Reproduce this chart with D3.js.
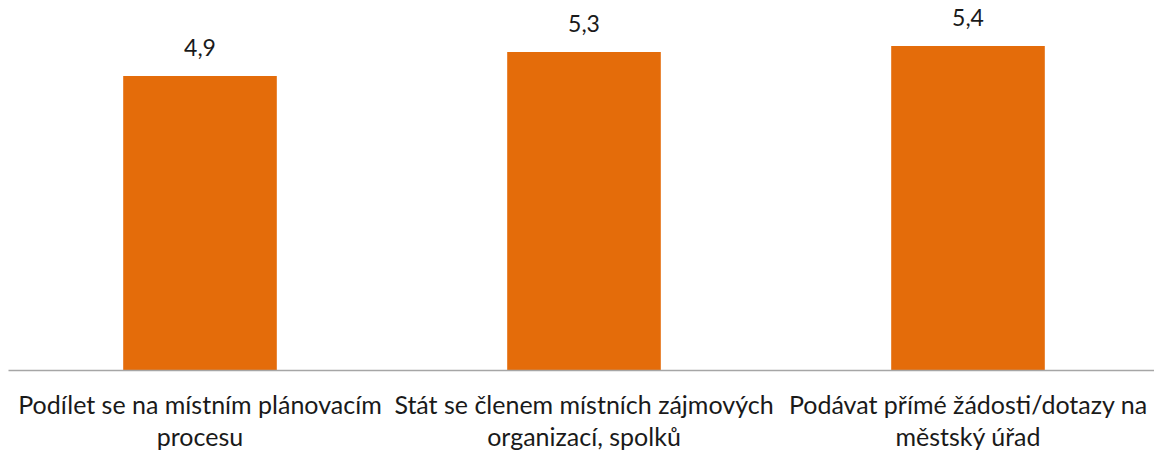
<!DOCTYPE html>
<html>
<head>
<meta charset="utf-8">
<script src="https://cdn.jsdelivr.net/npm/d3@7"></script>
<style>
  body { margin: 0; background: #fff; }
  svg { display: block; font-family: Lato, "Open Sans", sans-serif; }
</style>
</head>
<body>
<div id="chart"></div>
<script>
var categories = [
  ["Podílet se na místním plánovacím", "procesu"],
  ["Stát se členem místních zájmových", "organizací, spolků"],
  ["Podávat přímé žádosti/dotazy na", "městský úřad"]
];
var values = [4.9, 5.3, 5.4];
var valueLabels = ["4,9", "5,3", "5,4"];

var width = 1154,
    height = 455,
    axisLeft = 8,
    baseline = 370,
    plotTop = 10;

var svg = d3.select("#chart").append("svg")
    .attr("width", width)
    .attr("height", height);

// band scale runs slightly past the right edge, like the original
var xScale = d3.scaleBand()
    .domain(d3.range(values.length))
    .range([axisLeft, axisLeft + 384 * values.length])
    .paddingInner(0.6)
    .paddingOuter(0.3);

var yScale = d3.scaleLinear()
    .domain([0, 6])
    .range([baseline, plotTop]);

// bars
svg.selectAll(".bar")
  .data(values)
  .enter().append("rect")
    .attr("class", "bar")
    .attr("x", function(d, i) { return xScale(i); })
    .attr("y", function(d) { return yScale(d); })
    .attr("width", xScale.bandwidth())
    .attr("height", function(d) { return baseline - yScale(d); })
    .attr("fill", "#E46C0A");

// value labels
svg.selectAll(".value")
  .data(values)
  .enter().append("text")
    .attr("class", "value")
    .attr("x", function(d, i) { return xScale(i) + xScale.bandwidth() / 2; })
    .attr("y", function(d) { return yScale(d) - 20; })
    .attr("text-anchor", "middle")
    .attr("font-size", 23)
    .attr("fill", "#1a1a1a")
    .text(function(d, i) { return valueLabels[i]; });

// x axis line
var xAxis = svg.append("g")
    .attr("class", "x axis")
    .attr("transform", "translate(0," + baseline + ")")
    .call(d3.axisBottom(xScale).tickSize(0).tickFormat(""));

xAxis.select(".domain")
    .attr("stroke", "#A6A6A6")
    .attr("stroke-width", 1.5);

// category labels, two lines each
var cat = svg.selectAll(".cat")
  .data(categories)
  .enter().append("text")
    .attr("class", "cat")
    .attr("text-anchor", "middle")
    .attr("fill", "#1a1a1a")
    .attr("font-size", 25);

cat.selectAll("tspan")
  .data(function(d, i) { return d.map(function(line) { return {line: line, i: i}; }); })
  .enter().append("tspan")
    .attr("x", function(d) { return xScale(d.i) + xScale.bandwidth() / 2; })
    .attr("y", function(d, k) { return baseline + 44 + k * 32; })
    .text(function(d) { return d.line; });
</script>
</body>
</html>
